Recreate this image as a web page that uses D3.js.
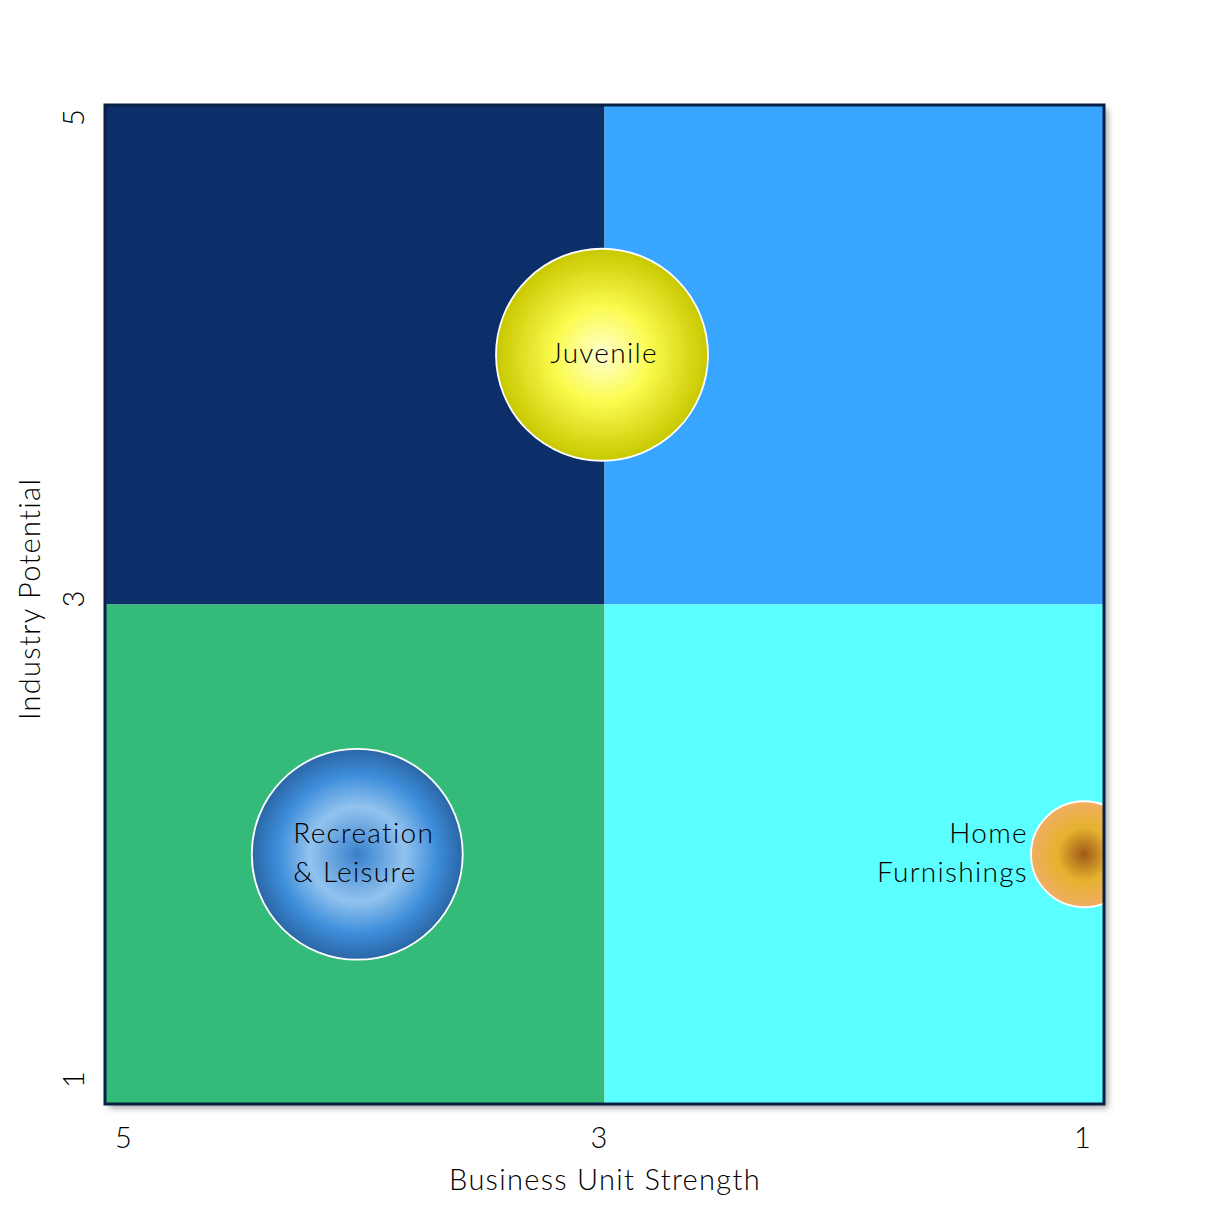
<!DOCTYPE html>
<html><head><meta charset="utf-8">
<script src="https://cdn.jsdelivr.net/npm/d3@7"></script>
<style>
html,body{margin:0;padding:0;background:#fff;}
text{font-family:Lato,"Open Sans",sans-serif;fill:#000;font-weight:300;letter-spacing:1.3px;}
</style></head>
<body>
<svg id="chart" width="1210" height="1210"></svg>
<script>
// ---- data ----
const bubbleNames = ["Juvenile", "Recreation & Leisure", "Home Furnishings"];
const bubbleLines = [["Juvenile"], ["Recreation", "& Leisure"], ["Home", "Furnishings"]];
const strengthValues = [3.01, 3.99, 1.08];   // Business Unit Strength (x)
const potentialValues = [4.0, 2.0, 2.0];      // Industry Potential (y)
const sizeValues = [20, 19.8, 5];
const xTickValues = [5, 3, 1];
const yTickValues = [5, 3, 1];
const quadrantX = [[5, 3], [3, 1]];
const quadrantY = [[5, 3], [3, 1]];
const quadrantColors = [["#0d2f69", "#38a6ff"], ["#34bb79", "#5cffff"]];

const svg = d3.select("#chart");
const L = 105, R = 1104, T = 105, B = 1104;
const x = d3.scaleLinear().domain([5, 1]).range([L, R]);
const y = d3.scaleLinear().domain([1, 5]).range([B, T]);
const r = d3.scaleSqrt().domain([0, 20]).range([0, 106]);

const defs = svg.append("defs");
const sh = defs.append("filter").attr("id", "shadow").attr("x", "-5%").attr("y", "-5%").attr("width", "115%").attr("height", "115%");
sh.append("feDropShadow").attr("dx", 4).attr("dy", 4).attr("stdDeviation", 3).attr("flood-color", "#000").attr("flood-opacity", 0.35);
defs.append("clipPath").attr("id", "plotclip").append("rect")
  .attr("x", L).attr("y", T).attr("width", R - L).attr("height", B - T);

const grads = [
  [["0%", "#ffffd0"], ["45%", "#fbfb50"], ["100%", "#c8c800"]],
  [["0%", "#3a7fc6"], ["12%", "#4f93d6"], ["45%", "#92c3ee"], ["75%", "#3e8edb"], ["100%", "#2a66a6"]],
  [["0%", "#a05a18"], ["50%", "#e6b22e"], ["100%", "#f0ae62"]]
];
grads.forEach((stops, i) => {
  const g = defs.append("radialGradient").attr("id", "g" + i).attr("cx", "50%").attr("cy", "50%").attr("r", "50%");
  stops.forEach(s => g.append("stop").attr("offset", s[0]).attr("stop-color", s[1]));
});

// frame with shadow
svg.append("rect").attr("x", L).attr("y", T).attr("width", R - L).attr("height", B - T)
  .attr("fill", "#fff").attr("filter", "url(#shadow)");

// quadrants
quadrantY.forEach((yr, i) => quadrantX.forEach((xr, j) => {
  svg.append("rect")
    .attr("x", x(xr[0])).attr("y", y(yr[0]))
    .attr("width", x(xr[1]) - x(xr[0])).attr("height", y(yr[1]) - y(yr[0]))
    .attr("fill", quadrantColors[i][j]);
}));

// bubbles
const data = bubbleNames.map((n, i) => ({name: n, lines: bubbleLines[i], x: strengthValues[i], y: potentialValues[i], s: sizeValues[i], i}));
const bg = svg.append("g").attr("clip-path", "url(#plotclip)");
bg.selectAll("circle").data(data).join("circle")
  .attr("cx", d => x(d.x)).attr("cy", d => y(d.y)).attr("r", d => r(d.s))
  .attr("fill", d => "url(#g" + d.i + ")")
  .attr("stroke", "#fff").attr("stroke-width", 1.8);

// labels
const labelFont = 28;
data.forEach(d => {
  const cx = x(d.x), cy = y(d.y), rr = r(d.s);
  let anchor = "middle", lx = cx + 2;
  if (d.i === 1) { anchor = "start"; lx = cx - 64; }
  if (d.i === 2) { anchor = "end"; lx = cx - rr - 3; }
  const n = d.lines.length;
  const t = svg.append("text").attr("text-anchor", anchor).attr("font-size", labelFont);
  d.lines.forEach((ln, k) => {
    t.append("tspan").attr("x", lx).attr("y", cy + 8 + (k - (n - 1) / 2) * 39).text(ln);
  });
});

// border
svg.append("rect").attr("x", L).attr("y", T).attr("width", R - L).attr("height", B - T)
  .attr("fill", "none").attr("stroke", "#0a1f45").attr("stroke-width", 3);

// x tick labels
const xOff = {5: 19, 3: -5, 1: -21};
svg.selectAll(".xt").data(xTickValues).join("text").attr("class", "xt")
  .attr("x", d => x(d) + xOff[d]).attr("y", 1148)
  .attr("text-anchor", "middle").attr("font-size", 29).text(d => d);
// y tick labels
const yOff = {5: 12, 3: -6, 1: -25};
svg.selectAll(".yt").data(yTickValues).join("text").attr("class", "yt")
  .attr("transform", d => `translate(84,${y(d) + yOff[d]}) rotate(-90)`)
  .attr("text-anchor", "middle").attr("font-size", 29).text(d => d);

// axis titles
svg.append("text").attr("x", 605).attr("y", 1190).attr("text-anchor", "middle")
  .attr("font-size", 29).text("Business Unit Strength");
svg.append("text").attr("transform", "translate(40,599) rotate(-90)").attr("text-anchor", "middle")
  .attr("font-size", 29).text("Industry Potential");
</script>
</body></html>
